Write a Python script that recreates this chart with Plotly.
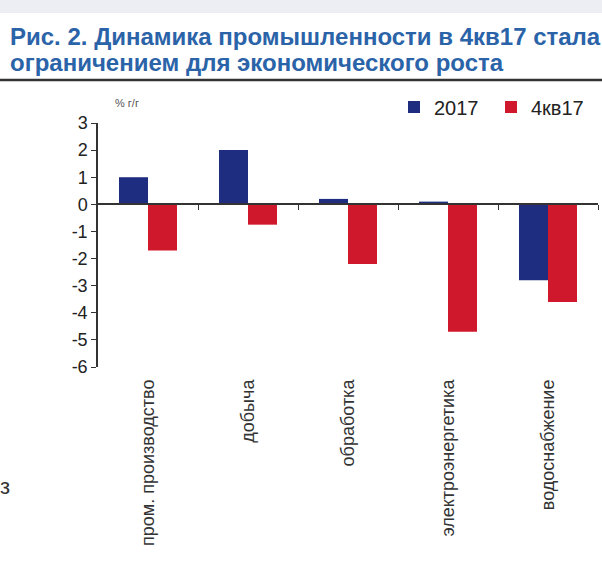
import plotly.graph_objects as go

categories = ["пром. производство", "добыча", "обработка", "электроэнергетика", "водоснабжение"]
series_2017 = [1.0, 2.0, 0.2, 0.1, -2.8]
series_4q17 = [-1.7, -0.75, -2.2, -4.7, -3.6]
y_ticks = [3, 2, 1, 0, -1, -2, -3, -4, -5, -6]
y_tick_text = [str(v) for v in y_ticks]

W, H = 602, 573
L, R, T, B = 98, 4, 123, 206
PW, PH = W - L - R, H - T - B


def px(x):
    return (x - L) / PW


def py(y):
    return (H - B - y) / PH


FONT = "Liberation Sans, Arial, sans-serif"
BLUE = "#1e2d80"
RED = "#d0182c"
TITLE_BLUE = "#2b63a9"

fig = go.Figure()
fig.add_bar(x=categories, y=series_2017, name="2017", marker_color=BLUE,
            marker_line_width=0)
fig.add_bar(x=categories, y=series_4q17, name="4кв17", marker_color=RED,
            marker_line_width=0)
# empty trace that keeps the zero-line axis alive
fig.add_scatter(x=[None], y=[None], xaxis="x2", showlegend=False, hoverinfo="skip")

title_lines = [
    ("Рис. 2. Динамика промышленности в 4кв17 стала", 37),
    ("ограничением для экономического роста", 63),
]

annotations = [
    dict(text=t, xref="paper", yref="paper", x=px(8), y=py(yc),
         xanchor="left", yanchor="middle", showarrow=False,
         font=dict(family=FONT, size=24, color=TITLE_BLUE, weight="bold"))
    for t, yc in title_lines
]
annotations += [
    dict(text="% г/г", xref="paper", yref="paper", x=px(113), y=py(103),
         xanchor="left", yanchor="middle", showarrow=False,
         font=dict(size=11, color="#555")),
    dict(text="з", xref="paper", yref="paper", x=px(-2), y=py(486),
         xanchor="left", yanchor="middle", showarrow=False,
         font=dict(size=22, color="#333")),
]

fig.update_layout(
    width=W, height=H,
    margin=dict(l=L, r=R, t=T, b=B, pad=0),
    paper_bgcolor="white", plot_bgcolor="white",
    barmode="group", bargap=0.42, bargroupgap=0,
    font=dict(family=FONT, color="#222"),
    xaxis=dict(
        type="category", showline=False, showgrid=False, zeroline=False,
        ticks="", tickangle=-90, tickfont=dict(size=18, color="#333"),
        ticklabelstandoff=8,
    ),
    xaxis2=dict(
        overlaying="x", anchor="free", position=6 / 9,
        range=[-0.5, 4.5], tickvals=[0.5, 1.5, 2.5, 3.5, 4.5],
        showticklabels=False, ticks="outside", ticklen=5, tickcolor="#333",
        showline=True, linecolor="#333", linewidth=1.5, showgrid=False, zeroline=False,
    ),
    yaxis=dict(
        range=[-6, 3], tickvals=y_ticks, ticktext=y_tick_text,
        showgrid=False, zeroline=False,
        showline=True, linecolor="#333", linewidth=1.5,
        ticks="outside", ticklen=5, tickcolor="#333",
        tickfont=dict(size=18, color="#222"),
    ),
    legend=dict(
        orientation="h", x=px(394), xanchor="left", y=py(107), yanchor="middle",
        font=dict(size=20, color="#222"), itemwidth=30, entrywidth=52,
        bgcolor="rgba(0,0,0,0)", traceorder="normal",
    ),
    shapes=[
        dict(type="rect", xref="paper", yref="paper", x0=px(0), x1=px(W), y0=py(13), y1=py(0),
             fillcolor="#eceef4", line_width=0, layer="below"),
        dict(type="line", xref="paper", yref="paper", x0=px(0), x1=px(W), y0=py(80), y1=py(80),
             line=dict(color="#333", width=2.5)),
    ],
    annotations=annotations,
)

fig.write_html("out.html")
